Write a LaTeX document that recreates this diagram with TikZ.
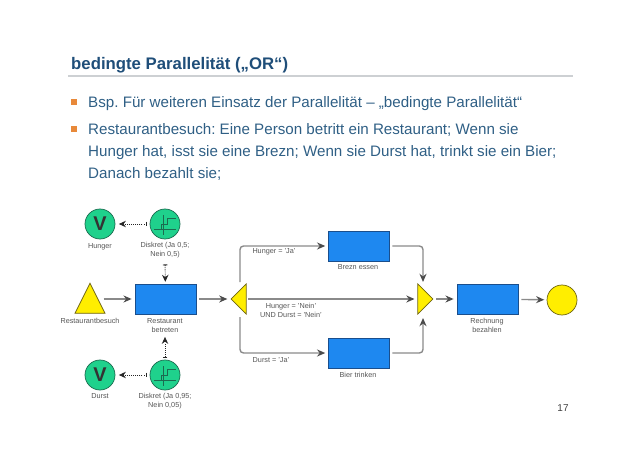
\documentclass[tikz,border=0pt]{standalone}
\usepackage{fontspec}
\setmainfont{Liberation Sans}
\usetikzlibrary{arrows.meta, positioning, calc, shapes.geometric}
\definecolor{titleblue}{HTML}{1F4E79}
\definecolor{textblue}{HTML}{2F5F85}
\definecolor{rulegray}{HTML}{CDD0D3}
\definecolor{bulletorange}{HTML}{E8893A}
\definecolor{taskblue}{HTML}{1E88F0}
\definecolor{taskborder}{HTML}{1A4E8C}
\definecolor{eventgreen}{HTML}{1FD18C}
\definecolor{eventborder}{HTML}{1C6B50}
\definecolor{gateyellow}{HTML}{FFEE00}
\definecolor{gateborder}{HTML}{6E6410}
\definecolor{linegray}{HTML}{8A8A8A}
\definecolor{labelgray}{HTML}{555555}
\frenchspacing

\begin{document}
\begin{tikzpicture}[
      x=0.03cm, y=-0.03cm,
      task/.style={draw=taskborder, fill=taskblue, line width=0.7pt,
        minimum width=1.83cm, minimum height=0.9cm, inner sep=0pt},
      event/.style={circle, draw=eventborder, fill=eventgreen, line width=0.6pt,
        minimum size=0.9cm, inner sep=0pt},
      finish/.style={circle, draw=gateborder, fill=gateyellow, line width=0.6pt,
        minimum size=0.9cm, inner sep=0pt},
      gate/.style={isosceles triangle, isosceles triangle stretches, draw=gateborder,
        fill=gateyellow, line width=0.6pt, inner sep=0pt},
      caption/.style={font=\fontsize{6.2}{7.7}\selectfont, text=labelgray, align=center,
        inner sep=0pt},
      bodytext/.style={font=\fontsize{12.94}{18.7}\selectfont, text=textblue, anchor=north west,
        align=left, inner sep=0pt},
      bullet/.style={fill=bulletorange, minimum size=0.16cm, inner sep=0pt},
      flow/.style={draw=linegray, line width=1.2pt, rounded corners=3pt,
        -{Stealth[length=7pt, width=6pt, color=black!70]}},
      assign/.style={densely dotted, line width=0.8pt, draw=black!85,
        {Bar[width=4pt]}-{Stealth[length=6pt, width=5.5pt]}},
      >=Latex
    ]
      \useasboundingbox (0,0) rectangle (638,452);
      % heading and bullets
      \node[anchor=base west, inner sep=0pt, font=\fontsize{14.3}{16}\selectfont\bfseries,
        text=titleblue] (title) at (71,70) {bedingte Parallelität („OR“)};
      \coordinate (ruleL) at (68,75.8);
      \coordinate (ruleR) at (573,75.8);
      \draw[rulegray, line width=1.2pt] (ruleL) -- (ruleR);
      \node[bullet] (b1) at (74,102) {};
      \node[bullet] (b2) at (74,129) {};
      \node[bodytext] (t1) at (88,96.5) {Bsp. Für weiteren Einsatz der Parallelität – „bedingte Parallelität“};
      \node[bodytext] (t2) at (88,123.5) {Restaurantbesuch: Eine Person betritt ein Restaurant; Wenn sie\\
        Hunger hat, isst sie eine Brezn; Wenn sie Durst hat, trinkt sie ein Bier;\\
        Danach bezahlt sie;};

      % process
      \node[gate, shape border rotate=90, minimum width=0.9cm, minimum height=0.9cm] (start) at (90,304) {};
      \node[task] (enter) at (165.5,299) {};
      \node[gate, shape border rotate=180, minimum width=0.9cm, minimum height=0.45cm] (split) at (240,299) {};
      \node[task] (brezn) at (358.5,246) {};
      \node[task] (bier) at (358.5,353) {};
      \node[gate, minimum width=0.9cm, minimum height=0.45cm] (join) at (424,299) {};
      \node[task] (bill) at (487.5,299) {};
      \node[finish] (end) at (562,300) {};
      \node[event, font=\fontsize{17}{18}\selectfont\bfseries, text=black!80] (hunger) at (100,224) {V};
      \node[event] (hrand) at (165,224) {};
      \node[event, font=\fontsize{17}{18}\selectfont\bfseries, text=black!80] (durst) at (100,375) {V};
      \node[event] (drand) at (165,375) {};
      \foreach \rnd in {hrand, drand} {
        \draw[line width=0.5pt, eventborder] ($(\rnd)+(-11,5.5)$) -- ($(\rnd)+(11,5.5)$)
          ($(\rnd)+(-2,-9)$) -- ($(\rnd)+(-2,11)$);
        \draw[line width=0.5pt, eventborder] ($(\rnd)+(-8,5.5)$) -- ($(\rnd)+(-4,5.5)$) -- ($(\rnd)+(-4,0)$)
          -- ($(\rnd)+(2,0)$) -- ($(\rnd)+(2,-6)$) -- ($(\rnd)+(11,-6)$);
      }

      % captions
      \node[caption] (chunger) at (100,246.5) {Hunger};
      \node[caption] (chrand) at (165,250.5) {Diskret (Ja 0,5;\\Nein 0,5)};
      \node[caption] (cstart) at (90,321) {Restaurantbesuch};
      \node[caption] (center) at (165,325.5) {Restaurant\\betreten};
      \node[caption] (cdurst) at (100,396) {Durst};
      \node[caption] (cdrand) at (165,401.5) {Diskret (Ja 0,95;\\Nein 0,05)};
      \node[caption] (cbrezn) at (358,267) {Brezn essen};
      \node[caption] (cbier) at (358,375) {Bier trinken};
      \node[caption] (cbill) at (487,325.5) {Rechnung\\bezahlen};
      \node[caption] (ljoin) at (274,252) {Hunger = 'Ja'};
      \node[caption] (lnein) at (291,310.5) {Hunger = 'Nein'\\UND Durst = 'Nein'};
      \node[caption] (lbier) at (271,360) {Durst = 'Ja'};
      \node[anchor=center, inner sep=0pt, font=\fontsize{8.5}{10}\selectfont, text=black!75] (page) at (563,408) {17};

      % connectors
      \coordinate (splitup) at (240,282);
      \coordinate (splitdown) at (240,317);
      \coordinate (joinup) at (423,282);
      \coordinate (joindown) at (423,318);
      \draw[flow, shorten <=2.5pt, shorten >=2.5pt] (start.east |- enter) -- (enter);
      \draw[flow, shorten <=2pt, shorten >=2.5pt] (enter) -- (split);
      \draw[flow, shorten <=2.5pt, shorten >=2.5pt] (split.west |- split) ++(15,0) -- (join);
      \draw[flow, shorten <=2pt, shorten >=2.5pt] (join) -- (bill);
      \draw[flow, shorten <=2.5pt, shorten >=2pt] (bill) -- (end);
      \draw[flow, shorten >=2pt] (splitup) |- (brezn.west);
      \draw[flow, shorten >=2pt] (splitdown) |- (bier.west);
      \draw[flow, shorten <=2.5pt] (brezn.east) -| (joinup);
      \draw[flow, shorten <=2.5pt] (bier.east) -| (joindown);
      \draw[assign, shorten <=2pt, shorten >=3pt] (hrand) -- (hunger);
      \draw[assign, shorten <=2pt, shorten >=3pt] (drand) -- (durst);
      \draw[assign, shorten <=5pt, shorten >=1.5pt] (chrand) -- (enter);
      \draw[assign, shorten <=1.5pt, shorten >=3.5pt] (drand) -- (center);
    \end{tikzpicture}
\end{document}
